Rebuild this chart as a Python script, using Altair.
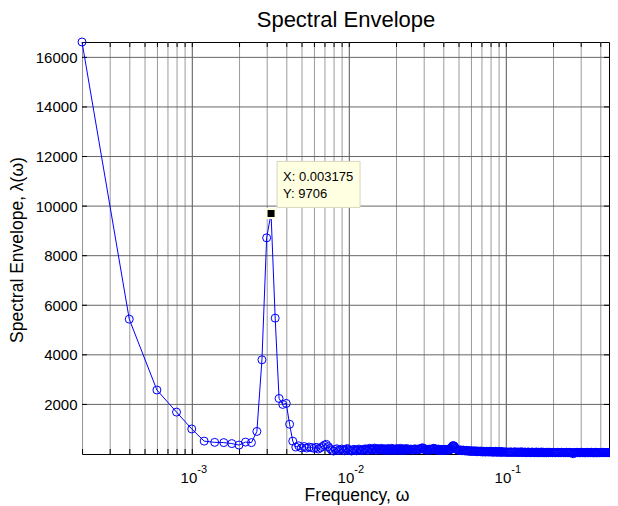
import altair as alt
import pandas as pd

# ---- data ----
N = 5040  # frequency step 1/N (peak sits at 16/N = 0.003175)
head_vals = [16620, 5440, 2580, 1690, 1010, 520, 470, 460, 420, 360,
             480, 460, 910, 3800, 8720, 9706, 5480, 2240, 2000, 2040,
             1200, 520, 280, 330, 250, 300, 240, 280, 260, 230,
             270, 200, 250, 300, 360, 390, 300, 220, 150, 120,
             180, 210, 140, 170, 200, 160, 130, 190, 220, 170,
             140, 120, 160, 190, 150, 130, 170, 200, 160, 140]
tail_k = (list(range(61, 121)) + list(range(122, 241, 2)) + list(range(244, 481, 4))
          + list(range(488, 961, 8)) + list(range(976, 1921, 16))
          + list(range(1952, 2497, 32)) + [2520])
tail_v = [
    # k 61..120
    150, 190, 170, 210, 180, 140, 200, 230, 190, 160, 170, 210, 240, 200, 150, 180, 220, 190, 160, 200,
    230, 180, 150, 170, 210, 190, 140, 180, 220, 200, 170, 150, 190, 230, 210, 170, 140, 180, 200, 160,
    190, 220, 180, 150, 170, 200, 230, 190, 160, 140, 180, 210, 190, 170, 150, 200, 220, 180, 160, 190,
    # k 122..240
    170, 200, 180, 150, 190, 210, 170, 160, 200, 180, 190, 220, 240, 250, 220, 180, 160, 190, 170, 150,
    180, 200, 170, 160, 190, 210, 230, 220, 190, 170, 150, 180, 200, 160, 140, 170, 190, 160, 150, 180,
    170, 150, 160, 190, 170, 150, 180, 200, 170, 160, 190, 220, 260, 300, 330, 340, 320, 290, 250, 210,
    # k 244..480
    180, 160, 140, 170, 150, 130, 160, 140, 120, 150, 130, 110, 140, 120, 100, 130, 110, 120, 100, 130,
    110, 90, 120, 100, 110, 90, 120, 100, 80, 110, 90, 100, 80, 110, 90, 100, 80, 90, 110, 90,
    80, 100, 90, 70, 100, 80, 90, 110, 80, 70, 90, 100, 80, 90, 70, 80, 100, 80, 70, 90,
    # k 488..960
    70, 90, 60, 80, 70, 60, 90, 70, 60, 80, 70, 90, 60, 70, 80, 60, 70, 90, 60, 80,
    60, 70, 80, 60, 50, 70, 80, 60, 70, 50, 60, 80, 70, 60, 50, 70, 60, 80, 60, 50,
    70, 60, 50, 70, 60, 80, 60, 50, 70, 60, 50, 60, 70, 50, 60, 70, 50, 60, 70, 60,
    # k 976..1920
    60, 50, 70, 60, 50, 60, 70, 50, 60, 50, 70, 60, 50, 60, 50, 70, 60, 50, 60, 70,
    50, 60, 50, 10, 50, 60, 50, 60, 70, 50, 60, 50, 60, 50, 70, 60, 50, 60, 50, 60,
    50, 60, 70, 50, 60, 50, 60, 50, 60, 70, 50, 60, 50, 60, 50, 60, 70, 50, 60, 50,
    # k 1952..2496, 2520
    60, 50, 60, 50, 70, 60, 50, 60, 50, 60, 50, 60, 70, 50, 60, 50, 60, 50, 60,
]
assert len(tail_k) == len(tail_v), (len(tail_k), len(tail_v))

y_ticks = [2000, 4000, 6000, 8000, 10000, 12000, 14000, 16000]
x_major = [0.001, 0.01, 0.1]
x_major_exp = ["-3", "-2", "-1"]
x_minor = [0.0002, 0.0003, 0.0004, 0.0005, 0.0006, 0.0007, 0.0008, 0.0009,
           0.002, 0.003, 0.004, 0.005, 0.006, 0.007, 0.008, 0.009,
           0.02, 0.03, 0.04, 0.05, 0.06, 0.07, 0.08, 0.09,
           0.2, 0.3, 0.4]
tip_x = [0.003175]
tip_y = [9706]

# ---- build tables ----
ks = list(range(1, len(head_vals) + 1)) + tail_k
vals = head_vals + tail_v
df = pd.DataFrame({"f": [k / N for k in ks], "v": vals})
df_major = pd.DataFrame({"f": x_major, "e": x_major_exp, "b": ["10"] * 3})
df_minor = pd.DataFrame({"f": x_minor})
df_all_x = pd.DataFrame({"f": x_major + x_minor})
df_y = pd.DataFrame({"v": y_ticks})
df_tip = pd.DataFrame({"f": tip_x, "v": tip_y,
                       "tx": ["X: 0.003175"], "ty": ["Y: 9706"]})

W, H = 527, 412
DECADE = 157.0
FONT = "Liberation Sans"
BLUE = "#0000FF"

xs = alt.Scale(type="log", domain=[1 / N, (1 / N) * 10 ** (W / DECADE)], nice=False)
ys = alt.Scale(domain=[0, 16620], nice=False, zero=False)

xenc = alt.X("f:Q", scale=xs,
             axis=alt.Axis(values=x_major, labels=False, ticks=False,
                           grid=False, domain=False, title=None))
yenc = alt.Y("v:Q", scale=ys,
             axis=alt.Axis(values=y_ticks, format="d", ticks=False, grid=False,
                           domain=False, title=None, labelFont=FONT,
                           labelFontSize=15, labelColor="black",
                           labelPadding=5))

grid_minor = alt.Chart(df_minor).mark_rule(color="#9a9a9a", strokeWidth=1).encode(
    x=alt.X("f:Q", scale=xs), y=alt.value(0), y2=alt.value(H))
grid_major = alt.Chart(df_major).mark_rule(color="#555555", strokeWidth=1).encode(
    x=alt.X("f:Q", scale=xs), y=alt.value(0), y2=alt.value(H))
grid_h = alt.Chart(df_y).mark_rule(color="#666666", strokeWidth=1).encode(
    y=alt.Y("v:Q", scale=ys), x=alt.value(0), x2=alt.value(W))

tick_len = 5
tk_bottom = alt.Chart(df_all_x).mark_rule(color="black").encode(
    x=alt.X("f:Q", scale=xs), y=alt.value(H), y2=alt.value(H - tick_len))
tk_top = alt.Chart(df_all_x).mark_rule(color="black").encode(
    x=alt.X("f:Q", scale=xs), y=alt.value(0), y2=alt.value(tick_len))
tk_left = alt.Chart(df_y).mark_rule(color="black").encode(
    y=alt.Y("v:Q", scale=ys), x=alt.value(0), x2=alt.value(tick_len))
tk_right = alt.Chart(df_y).mark_rule(color="black").encode(
    y=alt.Y("v:Q", scale=ys), x=alt.value(W), x2=alt.value(W - tick_len))

line = alt.Chart(df).mark_line(color=BLUE, strokeWidth=1, clip=False).encode(
    x=xenc, y=yenc)
pts = alt.Chart(df).mark_point(shape="circle", size=64, filled=False,
                               color=BLUE, strokeWidth=1, clip=False,
                               opacity=1).encode(
    x=alt.X("f:Q", scale=xs), y=alt.Y("v:Q", scale=ys))

lab10 = alt.Chart(df_major).mark_text(font=FONT, fontSize=15, align="right",
                                      baseline="alphabetic", dx=5, color="black").encode(
    x=alt.X("f:Q", scale=xs), y=alt.value(H + 29), text="b:N")
labexp = alt.Chart(df_major).mark_text(font=FONT, fontSize=11, align="left",
                                       baseline="alphabetic", dx=5, color="black").encode(
    x=alt.X("f:Q", scale=xs), y=alt.value(H + 19), text="e:N")

xtitle = alt.Chart(df_tip).mark_text(font=FONT, fontSize=17.5, align="center",
                                     baseline="alphabetic", color="black",
                                     text="Frequency, ω").encode(
    x=alt.value(275), y=alt.value(H + 47))
ytitle = alt.Chart(df_tip).mark_text(font=FONT, fontSize=17.5, align="center",
                                     baseline="alphabetic", color="black", angle=270,
                                     text="Spectral Envelope, λ(ω)").encode(
    x=alt.value(-59), y=alt.value(H / 2 + 2))
title = alt.Chart(df_tip).mark_text(font=FONT, fontSize=22, align="center",
                                    baseline="alphabetic", color="black",
                                    text="Spectral Envelope").encode(
    x=alt.value(264), y=alt.value(-15))

tip_box = alt.Chart(df_tip).mark_rect(fill="#FFFFE1", stroke="#d8d6c0", strokeWidth=1,
                                      xOffset=6, x2Offset=89, yOffset=-52, y2Offset=-6).encode(
    x=alt.X("f:Q", scale=xs), x2="f", y=alt.Y("v:Q", scale=ys), y2="v")
tip_sq = alt.Chart(df_tip).mark_square(size=81, fill="black", stroke="#FFFFE1",
                                       strokeWidth=2, opacity=1).encode(
    x=alt.X("f:Q", scale=xs), y=alt.Y("v:Q", scale=ys))
tip_t1 = alt.Chart(df_tip).mark_text(font=FONT, fontSize=13, align="left",
                                     baseline="alphabetic", dx=12, dy=-32, color="black").encode(
    x=alt.X("f:Q", scale=xs), y=alt.Y("v:Q", scale=ys), text="tx:N")
tip_t2 = alt.Chart(df_tip).mark_text(font=FONT, fontSize=13, align="left",
                                     baseline="alphabetic", dx=12, dy=-15, color="black").encode(
    x=alt.X("f:Q", scale=xs), y=alt.Y("v:Q", scale=ys), text="ty:N")

chart = alt.layer(
    grid_minor, grid_major, grid_h, tk_bottom, tk_top, tk_left, tk_right,
    line, pts, lab10, labexp, xtitle, ytitle, title,
    tip_box, tip_sq, tip_t1, tip_t2
).properties(
    width=W, height=H,
    autosize=alt.AutoSizeParams(type="none"),
    padding={"left": 74, "top": 34, "right": 1, "bottom": 58},
    background="white",
).configure_view(stroke="black", strokeWidth=1)

chart.save("out.html", embed_options={"renderer": "svg", "actions": False})
